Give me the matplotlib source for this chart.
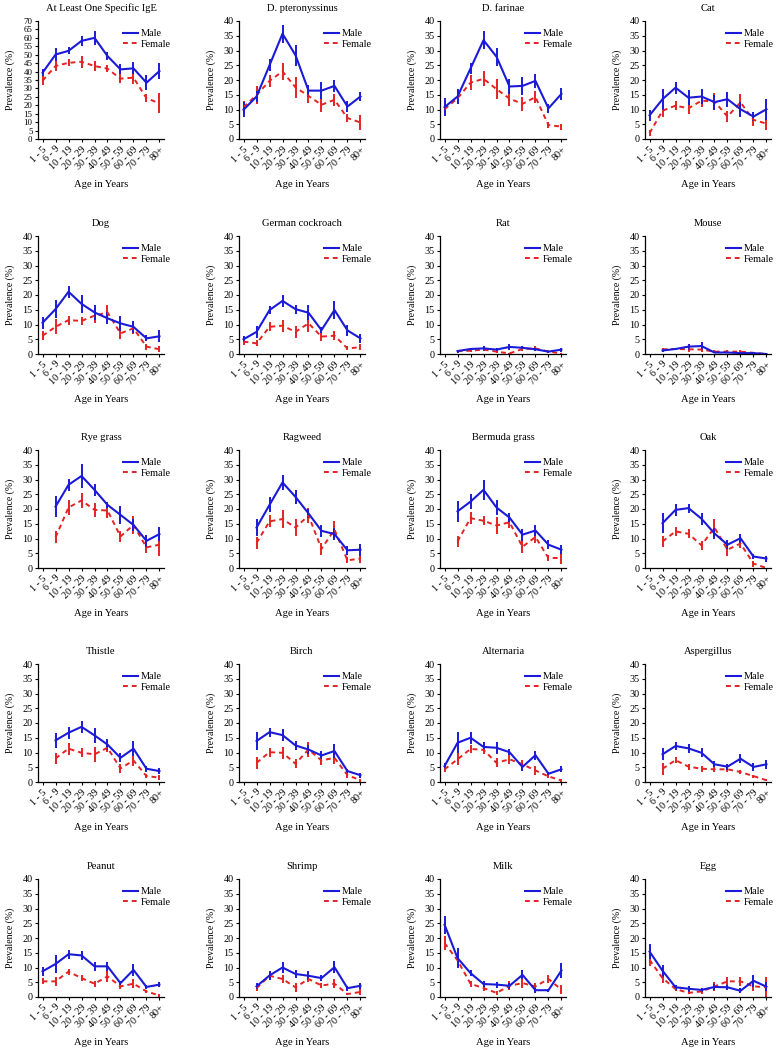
import numpy as np
import matplotlib.pyplot as plt

plt.rcParams['font.family'] = ['Liberation Serif', 'DejaVu Serif']

ages = ['1 - 5', '6 - 9', '10 - 19', '20 - 29', '30 - 39',
        '40 - 49', '50 - 59', '60 - 69', '70 - 79', '80+']

titles = ['At Least One Specific IgE', 'D. pteronyssinus', 'D. farinae', 'Cat',
          'Dog', 'German cockroach', 'Rat', 'Mouse',
          'Rye grass', 'Ragweed', 'Bermuda grass', 'Oak',
          'Thistle', 'Birch', 'Alternaria', 'Aspergillus',
          'Peanut', 'Shrimp', 'Milk', 'Egg']

na = np.nan

# prevalence (%) by age group, one row per allergen
male_prev = [
    [39.3, 50.1, 52.3, 58.2, 60.0, 49.2, 41.3, 41.9, 33.4, 40.3],
    [9.9, 14.4, 25.0, 35.7, 28.4, 16.4, 16.4, 18.0, 11.0, 14.4],
    [10.8, 14.4, 23.9, 33.5, 27.9, 17.8, 18.0, 19.7, 10.4, 15.3],
    [8.0, 13.5, 17.4, 14.0, 14.4, 12.5, 13.5, 10.1, 7.6, 10.1],
    [10.6, 15.2, 21.1, 17.0, 14.1, 12.1, 10.4, 9.2, 5.3, 6.0],
    [5.0, 7.5, 14.9, 18.0, 15.2, 14.0, 8.1, 14.9, 8.0, 5.3],
    [na, 1.0, 1.7, 1.9, 1.5, 2.4, 2.1, 1.6, 0.8, 1.5],
    [na, 1.2, 1.7, 2.5, 2.7, 0.5, 0.5, 0.3, 0.3, 0.0],
    [na, 20.8, 28.2, 31.2, 26.5, 21.4, 18.0, 14.6, 9.2, 11.5],
    [na, 13.7, 21.4, 29.0, 24.1, 18.5, 12.6, 11.5, 6.0, 6.2],
    [na, 19.2, 22.5, 26.5, 20.5, 17.1, 11.3, 12.7, 7.9, 6.2],
    [na, 15.2, 19.7, 20.3, 16.7, 11.7, 7.9, 10.1, 3.9, 3.2],
    [na, 14.1, 16.7, 18.7, 15.8, 12.7, 8.2, 11.3, 4.5, 3.7],
    [na, 13.9, 16.9, 15.9, 12.4, 11.0, 9.0, 10.5, 3.7, 2.3],
    [5.4, 13.3, 15.0, 11.9, 11.6, 10.1, 5.1, 9.1, 2.8, 4.3],
    [na, 9.4, 12.2, 11.4, 9.9, 6.0, 5.2, 7.9, 5.1, 6.0],
    [8.7, 11.2, 14.5, 14.1, 10.4, 10.4, 4.7, 9.2, 3.4, 4.2],
    [na, 3.6, 7.3, 10.0, 7.8, 7.2, 6.4, 10.1, 3.0, 3.8],
    [24.5, 13.2, 8.1, 4.4, 4.2, 3.8, 7.5, 2.3, 2.3, 9.0],
    [15.4, 8.9, 3.3, 2.8, 2.4, 3.4, 3.3, 2.1, 5.5, 3.5],
]
male_err = [
    [2.0, 4.0, 2.0, 3.0, 4.0, 2.5, 3.0, 3.5, 4.5, 5.0],
    [2.5, 2.0, 2.0, 3.0, 3.5, 2.0, 3.0, 2.0, 2.0, 1.5],
    [3.0, 2.5, 2.0, 3.0, 3.0, 2.5, 3.0, 2.5, 1.5, 2.0],
    [2.0, 3.5, 2.0, 2.5, 2.5, 2.5, 2.5, 2.5, 1.5, 3.5],
    [2.0, 3.0, 2.0, 3.0, 2.5, 2.0, 2.5, 2.0, 1.0, 2.0],
    [1.0, 2.0, 1.5, 2.0, 1.5, 2.5, 1.0, 3.0, 2.0, 1.5],
    [na, 0.5, 0.5, 0.8, 0.5, 1.0, 0.5, 0.5, 0.3, 0.7],
    [na, 0.5, 0.5, 1.0, 1.2, 0.3, 0.3, 0.2, 0.2, 0.0],
    [na, 3.5, 2.0, 4.0, 2.0, 1.0, 3.0, 2.0, 2.0, 2.5],
    [na, 3.0, 2.5, 2.5, 2.5, 1.5, 2.0, 2.0, 1.5, 2.0],
    [na, 3.5, 2.5, 3.5, 2.5, 1.5, 2.0, 2.0, 1.5, 1.5],
    [na, 3.5, 2.0, 1.5, 2.0, 2.0, 1.5, 1.5, 1.0, 1.0],
    [na, 2.5, 2.0, 2.0, 2.5, 2.0, 1.5, 2.5, 1.0, 1.0],
    [na, 3.0, 1.5, 2.0, 1.5, 1.5, 1.5, 2.5, 0.8, 0.8],
    [1.0, 3.5, 2.0, 1.5, 2.0, 1.0, 1.5, 1.5, 0.5, 1.0],
    [na, 2.0, 1.5, 1.5, 1.5, 1.0, 1.0, 1.5, 1.5, 1.5],
    [1.5, 3.0, 1.5, 1.5, 1.5, 1.5, 0.8, 2.0, 0.8, 0.8],
    [na, 1.0, 1.5, 2.0, 1.5, 1.5, 1.0, 2.0, 0.8, 1.0],
    [3.0, 3.5, 1.0, 1.0, 1.0, 1.0, 1.5, 0.8, 0.5, 2.5],
    [2.5, 2.0, 0.8, 1.0, 0.8, 1.0, 0.8, 0.8, 2.0, 1.5],
]
female_prev = [
    [34.6, 43.3, 45.2, 45.8, 43.3, 41.7, 35.8, 36.4, 24.2, 21.2],
    [10.8, 14.9, 19.7, 22.9, 17.5, 14.6, 11.6, 13.3, 7.1, 5.6],
    [10.1, 13.8, 19.1, 20.4, 16.9, 13.7, 11.9, 14.2, 4.7, 4.2],
    [2.0, 9.6, 11.3, 10.4, 13.0, 12.7, 7.6, 12.4, 6.5, 5.2],
    [6.2, 9.2, 11.5, 11.2, 13.0, 14.1, 7.0, 8.7, 2.5, 1.6],
    [4.2, 3.6, 9.2, 9.6, 7.5, 10.4, 5.9, 6.2, 1.9, 2.3],
    [na, 1.0, 1.1, 1.5, 0.8, 0.2, 1.7, 1.9, 0.8, 0.2],
    [na, 1.6, 1.7, 1.6, 1.5, 0.8, 0.8, 0.8, 0.4, 0.0],
    [na, 10.4, 20.5, 22.9, 19.7, 19.5, 10.7, 14.6, 7.0, 7.9],
    [na, 8.5, 15.8, 16.6, 13.7, 17.8, 6.5, 13.0, 2.6, 3.2],
    [na, 9.0, 16.9, 16.0, 14.4, 15.5, 7.2, 10.5, 3.4, 3.4],
    [na, 9.0, 12.4, 11.6, 7.7, 13.7, 6.2, 8.3, 1.5, 0.0],
    [na, 8.0, 11.3, 9.9, 9.4, 11.6, 4.6, 7.3, 2.0, 1.5],
    [na, 6.5, 10.1, 9.9, 6.2, 11.0, 7.3, 8.2, 2.3, 0.6],
    [4.3, 7.7, 11.2, 10.9, 6.5, 7.7, 6.0, 3.9, 1.9, 0.5],
    [na, 4.5, 7.4, 5.2, 4.5, 4.3, 4.3, 3.4, 2.0, 0.6],
    [5.3, 5.3, 8.6, 6.4, 4.5, 7.0, 3.6, 4.5, 1.9, 0.5],
    [na, 3.0, 7.2, 6.1, 3.3, 6.1, 3.9, 4.5, 1.0, 1.7],
    [18.3, 12.4, 4.5, 3.0, 1.4, 3.8, 4.7, 3.6, 6.1, 2.5],
    [12.6, 6.4, 2.7, 1.4, 1.9, 3.6, 5.3, 5.3, 3.6, 3.3],
]
female_err = [
    [2.5, 3.0, 2.0, 3.5, 3.0, 2.0, 2.5, 3.5, 2.5, 6.0],
    [2.0, 3.0, 2.0, 3.0, 3.5, 2.5, 2.5, 2.0, 1.5, 2.5],
    [1.5, 2.0, 2.5, 2.5, 3.5, 2.5, 2.5, 2.0, 1.0, 1.0],
    [1.0, 2.0, 1.5, 2.0, 2.0, 3.0, 2.0, 3.0, 2.0, 2.0],
    [1.5, 2.5, 1.5, 1.5, 2.5, 2.5, 2.0, 2.0, 1.0, 1.0],
    [1.0, 1.0, 1.5, 2.0, 2.0, 3.0, 1.5, 1.5, 0.7, 1.0],
    [na, 0.4, 0.4, 0.5, 0.4, 0.2, 0.6, 0.7, 0.4, 0.2],
    [na, 0.5, 0.5, 0.8, 0.7, 0.4, 0.4, 0.4, 0.3, 0.0],
    [na, 2.0, 2.5, 2.5, 2.5, 2.5, 2.0, 3.0, 2.0, 4.0],
    [na, 2.0, 2.0, 3.0, 3.0, 2.5, 2.0, 3.0, 1.0, 1.5],
    [na, 2.0, 2.0, 1.5, 3.0, 2.0, 2.0, 2.0, 1.0, 2.0],
    [na, 2.0, 1.5, 1.5, 1.5, 3.0, 2.0, 1.5, 1.0, 0.0],
    [na, 2.0, 2.0, 1.5, 2.5, 1.5, 1.5, 2.0, 0.8, 0.8],
    [na, 2.0, 1.5, 2.0, 1.5, 2.5, 1.5, 2.0, 1.0, 0.5],
    [1.0, 2.0, 1.5, 1.5, 1.5, 1.5, 1.5, 1.5, 0.5, 0.5],
    [na, 2.0, 1.0, 1.0, 1.0, 1.0, 1.0, 0.8, 0.5, 0.4],
    [1.0, 1.5, 1.0, 1.0, 1.0, 2.0, 1.0, 1.5, 0.5, 0.4],
    [na, 1.0, 1.5, 1.5, 1.5, 1.0, 1.0, 1.5, 0.4, 1.0],
    [2.5, 2.0, 1.0, 0.8, 0.7, 1.5, 1.5, 1.0, 1.5, 1.5],
    [2.0, 1.5, 0.8, 0.5, 0.8, 1.5, 1.5, 1.5, 1.5, 3.5],
]

W, H = 778, 1050
fig = plt.figure(figsize=(W / 100, H / 100), dpi=100)

col_left = [38, 239, 440, 645]
row_top = [21, 236, 450, 664, 879]
legend_x = [0.66, 0.66, 0.66, 0.63]
ax_w, ax_h = 126, 118
blue = '#1a1ad8'
red = '#e42222'
x = np.arange(len(ages))

for i, title in enumerate(titles):
    r, c = divmod(i, 4)
    ax = fig.add_axes([col_left[c] / W, 1 - (row_top[r] + ax_h) / H, ax_w / W, ax_h / H])

    ax.errorbar(x, female_prev[i], yerr=female_err[i], color=red, lw=1.4,
                ls=(0, (2.5, 2)), elinewidth=1.4, capsize=0, label='Female')
    ax.errorbar(x, male_prev[i], yerr=male_err[i], color=blue, lw=1.5,
                elinewidth=1.4, capsize=0, label='Male')

    ymax = 70 if i == 0 else 40
    ax.set_ylim(0, ymax)
    ax.set_yticks(np.arange(0, ymax + 1, 5))
    ax.set_xlim(-0.35, 9.35)
    ax.set_xticks(x)
    ax.set_xticklabels(ages, rotation=45, ha='right', rotation_mode='anchor')
    ax.tick_params(labelsize=7.3, length=2.5, width=0.8, pad=1.5)
    if i == 0:
        ax.tick_params(axis='y', labelsize=6.4)
    for s in ['top', 'right']:
        ax.spines[s].set_visible(False)
    for s in ['left', 'bottom']:
        ax.spines[s].set_linewidth(0.9)

    ax.set_title(title, fontsize=7.6, pad=7)
    ax.set_xlabel('Age in Years', fontsize=7.6)
    ax.xaxis.set_label_coords(0.5, -0.35)
    ax.set_ylabel('Prevalence (%)', fontsize=7)
    ax.yaxis.set_label_coords(-0.18, 0.5)

    h, l = ax.get_legend_handles_labels()
    handles = [hh[0] for hh in h[::-1]]
    ax.legend(handles, l[::-1], loc='upper left', bbox_to_anchor=(legend_x[c], 0.95),
              frameon=False, fontsize=7.4, handlelength=1.4, handletextpad=0.3,
              labelspacing=0.15, borderpad=0.2, borderaxespad=0)

fig.savefig('out.png', dpi=100)
